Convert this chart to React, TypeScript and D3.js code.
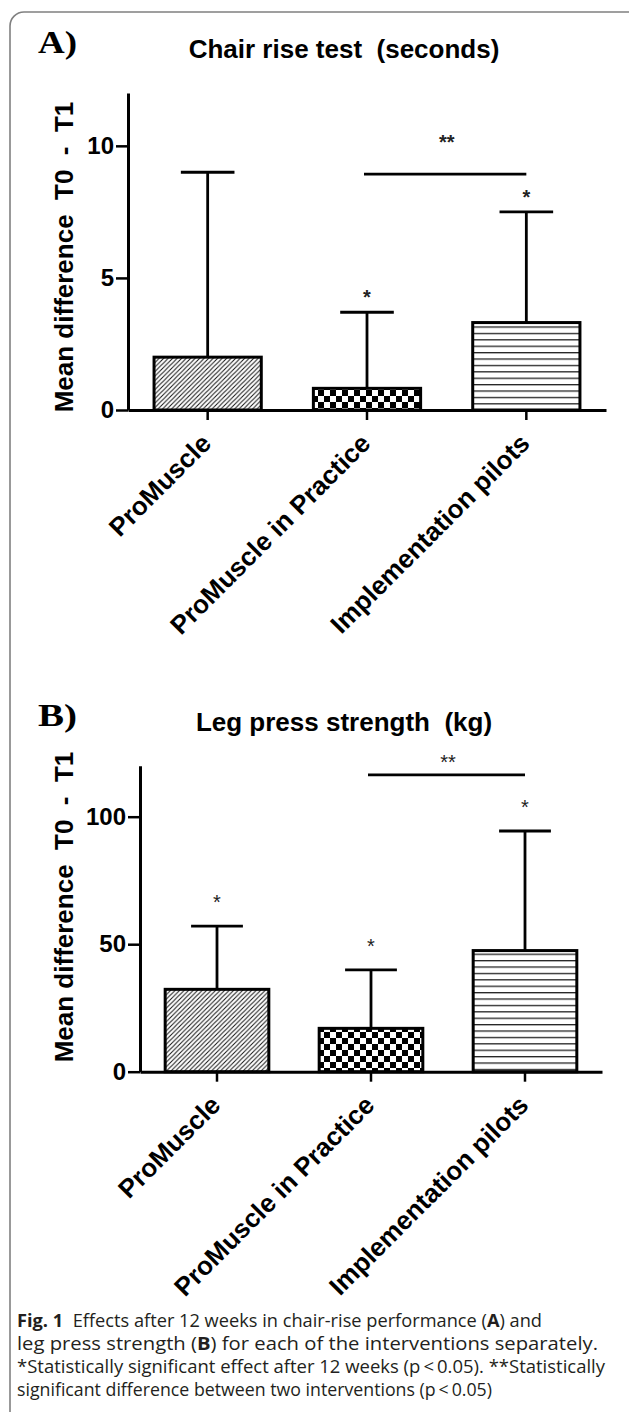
import { useEffect, useRef } from "react";
import * as d3 from "d3";

const W = 629;
const H = 1412;

const categories = ["ProMuscle", "ProMuscle in Practice", "Implementation pilots"];
const fills = ["hatch", "checker", "hlines"];

// A) chair rise test (seconds)
const chairMean = [2.0, 0.82, 3.31];
const chairSd = [7.0, 2.88, 4.19];
const chairStar = [false, true, true];
const chairTicks = [0, 5, 10];
const chairSig = 8.93; // "**" between ProMuscle in Practice and Implementation pilots

// B) leg press strength (kg)
const legMean = [32.3, 17.0, 47.5];
const legSd = [24.8, 22.9, 46.9];
const legStar = [true, true, true];
const legTicks = [0, 50, 100];
const legSig = 116.4;

const captionLines = [
  [["Fig. 1", true], ["  Effects after 12 weeks in chair-rise performance (", false], ["A", true], [") and", false]],
  [["leg press strength (", false], ["B", true], [") for each of the interventions separately.", false]],
  [["*Statistically significant effect after 12 weeks (p\u2009<\u20090.05). **Statistically", false]],
  [["significant difference between two interventions (p\u2009<\u20090.05)", false]],
] as [string, boolean][][];
const captionWidths = [525, 581, 588, 475];

const panels = [
  {
    tag: "A)", title: "Chair rise test  (seconds)", mean: chairMean, sd: chairSd, star: chairStar,
    ticks: chairTicks, max: 12, sig: chairSig,
    left: 128, right: 606, top: 93, bottom: 410, labelMid: 257,
    starGap: 8, sigGap: 25, starWeight: "bold",
  },
  {
    tag: "B)", title: "Leg press strength  (kg)", mean: legMean, sd: legSd, star: legStar,
    ticks: legTicks, max: 120, sig: legSig,
    left: 140, right: 602, top: 765.7, bottom: 1071.7, labelMid: 907,
    starGap: 16.7, sigGap: 6, starWeight: "normal",
  },
];

const SANS = "'Liberation Sans', Arial, sans-serif";

export default function App() {
  const ref = useRef<SVGSVGElement>(null);

  useEffect(() => {
    if (!ref.current) return;
    const svg = d3.select(ref.current);
    svg.selectAll("*").remove();

    const defs = svg.append("defs");
    const hatch = defs.append("pattern").attr("id", "hatch").attr("patternUnits", "userSpaceOnUse")
      .attr("width", 4.5).attr("height", 4.5);
    hatch.append("rect").attr("width", 4.5).attr("height", 4.5).attr("fill", "#fff");
    hatch.append("path").attr("d", "M-1,1 L1,-1 M0,4.5 L4.5,0 M3.5,5.5 L5.5,3.5")
      .attr("stroke", "#111").attr("stroke-width", 1);

    const checker = defs.append("pattern").attr("id", "checker").attr("patternUnits", "userSpaceOnUse")
      .attr("width", 12).attr("height", 12);
    checker.append("rect").attr("width", 12).attr("height", 12).attr("fill", "#fff");
    checker.append("rect").attr("width", 6).attr("height", 6).attr("fill", "#000");
    checker.append("rect").attr("x", 6).attr("y", 6).attr("width", 6).attr("height", 6).attr("fill", "#000");

    const hl = defs.append("pattern").attr("id", "hlines").attr("patternUnits", "userSpaceOnUse")
      .attr("width", 10).attr("height", 6.4);
    hl.append("rect").attr("width", 10).attr("height", 6.4).attr("fill", "#fff");
    hl.append("rect").attr("y", 0).attr("width", 10).attr("height", 1.3).attr("fill", "#222");

    // frame
    svg.append("rect").attr("x", 10).attr("y", 12).attr("width", 700).attr("height", 1500)
      .attr("rx", 14).attr("fill", "none").attr("stroke", "#808080").attr("stroke-width", 1.6);

    panels.forEach((p) => {
      const x = d3.scaleBand<string>().domain(categories).range([p.left, p.right])
        .paddingInner(0.327).paddingOuter(0.1635);
      const y = d3.scaleLinear().domain([0, p.max]).range([p.bottom, p.top]);
      const bw = x.bandwidth();
      const g = svg.append("g");

      g.append("text").attr("x", 38).attr("y", p.top - 40)
        .attr("font-family", "'Liberation Serif', 'Times New Roman', serif").attr("font-weight", "bold")
        .attr("font-size", 31).attr("textLength", 39).attr("lengthAdjust", "spacingAndGlyphs")
        .text(p.tag);

      g.append("text").attr("x", 344).attr("y", p.top - 35).attr("text-anchor", "middle")
        .attr("font-family", SANS).attr("font-weight", "bold").attr("font-size", 26)
        .style("white-space", "pre")
        .text(p.title);

      g.append("text").attr("transform", `translate(73,${p.labelMid}) rotate(-90)`)
        .attr("text-anchor", "middle").attr("font-family", SANS).attr("font-weight", "bold")
        .attr("font-size", 26).style("white-space", "pre")
        .text("Mean difference  T0  -  T1");

      // bars
      categories.forEach((c, i) => {
        const cx = x(c)! + bw / 2;
        const top = y(p.mean[i] + p.sd[i]);
        g.append("line").attr("x1", cx).attr("x2", cx).attr("y1", y(p.mean[i])).attr("y2", top)
          .attr("stroke", "#000").attr("stroke-width", 2.8);
        g.append("line").attr("x1", cx - bw / 4).attr("x2", cx + bw / 4).attr("y1", top).attr("y2", top)
          .attr("stroke", "#000").attr("stroke-width", 2.8);
        g.append("rect").attr("x", x(c)!).attr("y", y(p.mean[i]))
          .attr("width", bw).attr("height", y(0) - y(p.mean[i]))
          .attr("fill", `url(#${fills[i]})`).attr("stroke", "#000").attr("stroke-width", 3);
        if (p.star[i]) {
          g.append("text").attr("x", cx).attr("y", top - p.starGap).attr("text-anchor", "middle")
            .attr("font-family", SANS).attr("font-weight", p.starWeight).attr("font-size", 20)
            .attr("fill", "#222").text("*");
        }
      });

      // significance between interventions 2 and 3
      const sx1 = x(categories[1])! + bw / 2;
      const sx2 = x(categories[2])! + bw / 2;
      g.append("line").attr("x1", sx1 - 3).attr("x2", sx2).attr("y1", y(p.sig)).attr("y2", y(p.sig))
        .attr("stroke", "#000").attr("stroke-width", 2.8);
      g.append("text").attr("x", (sx1 + sx2) / 2).attr("y", y(p.sig) - p.sigGap).attr("text-anchor", "middle")
        .attr("font-family", SANS).attr("font-weight", p.starWeight).attr("font-size", 20)
        .attr("fill", "#222").text("**");

      // axes
      const ya = g.append("g").attr("transform", `translate(${p.left},0)`)
        .call(d3.axisLeft(y).tickValues(p.ticks).tickSize(12).tickSizeOuter(0).tickPadding(2));
      const xa = g.append("g").attr("transform", `translate(0,${p.bottom})`)
        .call(d3.axisBottom(x).tickSize(10).tickSizeOuter(0).tickFormat(() => ""));
      [ya, xa].forEach((a) => {
        a.select(".domain").attr("stroke", "#000").attr("stroke-width", 3);
        a.selectAll(".tick line").attr("stroke", "#000").attr("stroke-width", 2.5);
      });
      ya.selectAll(".tick text").attr("font-family", SANS).attr("font-weight", "bold")
        .attr("font-size", 24).attr("fill", "#000");

      categories.forEach((c) => {
        const cx = x(c)! + bw / 2;
        g.append("text").attr("transform", `translate(${cx + 5},${p.bottom + 35}) rotate(-45)`)
          .attr("text-anchor", "end").attr("font-family", SANS).attr("font-weight", "bold")
          .attr("font-size", 26).text(c);
      });
    });

    // caption
    const cap = svg.append("g");
    captionLines.forEach((line, i) => {
      const t = cap.append("text").attr("x", 17).attr("y", 1327 + i * 23)
        .attr("font-family", "'Open Sans', sans-serif").attr("font-size", 18).attr("fill", "#231f20")
        .attr("textLength", captionWidths[i]).attr("lengthAdjust", "spacingAndGlyphs")
        .style("white-space", "pre");
      line.forEach(([s, b]) => {
        t.append("tspan").attr("font-weight", b ? "bold" : "normal").text(s);
      });
    });
  }, []);

  return (
    <svg ref={ref} width={W} height={H} viewBox={`0 0 ${W} ${H}`}
      style={{ position: "absolute", left: 0, top: 0, display: "block", background: "#fff" }} />
  );
}
